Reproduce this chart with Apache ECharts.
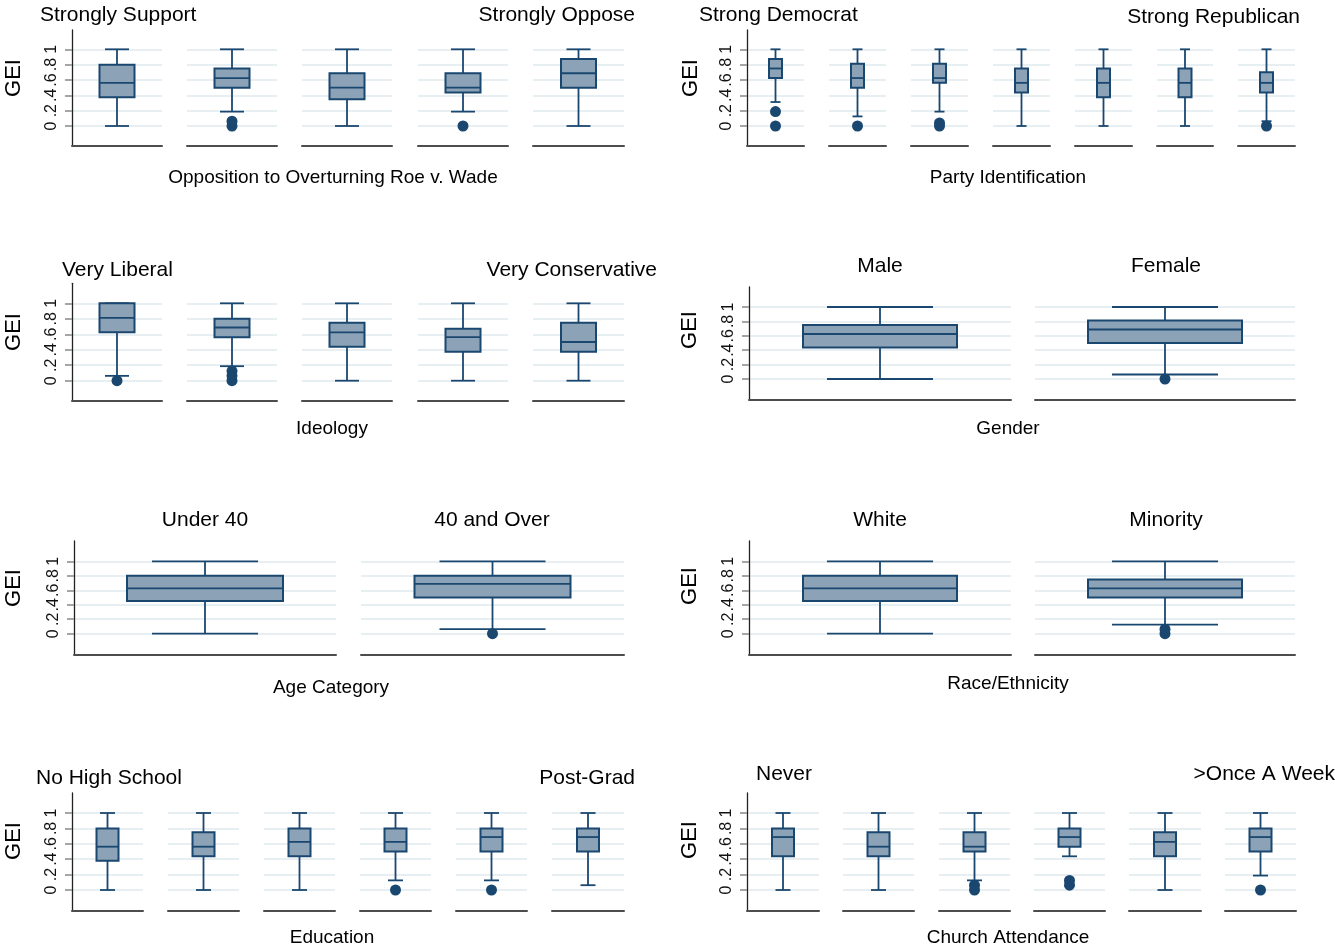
<!DOCTYPE html>
<html><head><meta charset="utf-8">
<script src="https://cdn.jsdelivr.net/npm/echarts@6/dist/echarts.min.js"></script>
<style>html,body{margin:0;padding:0;background:#fff}#c{width:1335px;height:952px}</style>
</head><body><div id="c"></div>
<script>
// ---------------- data ----------------
const yTicks = [0, 0.2, 0.4, 0.6, 0.8, 1];
const yTickLabels = ['0', '.2', '.4', '.6', '.8', '1'];
const yAxisName = 'GEI';

// box = [lower whisker, Q1, median, Q3, upper whisker]
const roeTitle = 'Opposition to Overturning Roe v. Wade';
const roeCategories = ['Strongly Support', '', '', '', 'Strongly Oppose'];
const roeBoxes = [[0, 0.375, 0.5625, 0.8, 1], [0.1875, 0.5, 0.625, 0.75, 1], [0, 0.35, 0.5, 0.6875, 1], [0.1875, 0.4375, 0.5, 0.6875, 1], [0, 0.5, 0.6875, 0.875, 1]];
const roeOutliers = [[], [0, 0.0625], [], [0], []];

const partyTitle = 'Party Identification';
const partyCategories = ['Strong Democrat', '', '', '', '', '', 'Strong Republican'];
const partyBoxes = [[0.3125, 0.625, 0.75, 0.875, 1], [0.125, 0.5, 0.625, 0.8125, 1], [0.1875, 0.5625, 0.625, 0.8125, 1], [0, 0.4375, 0.5625, 0.75, 1], [0, 0.375, 0.5625, 0.75, 1], [0, 0.375, 0.5625, 0.75, 1], [0.0625, 0.4375, 0.5625, 0.7, 1]];
const partyOutliers = [[0, 0.1875], [0], [0, 0.04], [], [], [], [0]];

const ideologyTitle = 'Ideology';
const ideologyCategories = ['Very Liberal', '', '', '', 'Very Conservative'];
const ideologyBoxes = [[0.0625, 0.625, 0.8125, 1, 1], [0.1875, 0.5625, 0.6875, 0.8, 1], [0, 0.4375, 0.625, 0.75, 1], [0, 0.375, 0.5625, 0.67, 1], [0, 0.375, 0.5, 0.75, 1]];
const ideologyOutliers = [[0], [0, 0.0625, 0.125], [], [], []];

const genderTitle = 'Gender';
const genderCategories = ['Male', 'Female'];
const genderBoxes = [[0, 0.4375, 0.625, 0.75, 1], [0.0625, 0.5, 0.6875, 0.8125, 1]];
const genderOutliers = [[], [0]];

const ageTitle = 'Age Category';
const ageCategories = ['Under 40', '40 and Over'];
const ageBoxes = [[0, 0.45, 0.625, 0.8, 1], [0.0625, 0.5, 0.6875, 0.8, 1]];
const ageOutliers = [[], [0]];

const raceTitle = 'Race/Ethnicity';
const raceCategories = ['White', 'Minority'];
const raceBoxes = [[0, 0.45, 0.625, 0.8, 1], [0.125, 0.5, 0.625, 0.75, 1]];
const raceOutliers = [[], [0, 0.0625]];

const educationTitle = 'Education';
const educationCategories = ['No High School', '', '', '', '', 'Post-Grad'];
const educationBoxes = [[0, 0.38, 0.5625, 0.8, 1], [0, 0.4375, 0.5625, 0.75, 1], [0, 0.4375, 0.625, 0.8, 1], [0.125, 0.5, 0.625, 0.8, 1], [0.125, 0.5, 0.6875, 0.8, 1], [0.0625, 0.5, 0.6875, 0.8, 1]];
const educationOutliers = [[], [], [], [0], [0], []];

const churchTitle = 'Church Attendance';
const churchCategories = ['Never', '', '', '', '', '>Once A Week'];
const churchBoxes = [[0, 0.4375, 0.6875, 0.8, 1], [0, 0.4375, 0.5625, 0.75, 1], [0.125, 0.5, 0.5625, 0.75, 1], [0.4375, 0.5625, 0.6875, 0.8, 1], [0, 0.4375, 0.625, 0.75, 1], [0.1875, 0.5, 0.6875, 0.8, 1]];
const churchOutliers = [[], [], [0, 0.0625], [0.0625, 0.125], [], [0]];

// ---------------- layout (pixels) ----------------
const leftCols5 = [[72, 162], [187, 277], [302, 392], [418, 508], [533, 624]];
const partyCols = [[747, 804], [829, 886], [911, 968], [993, 1050], [1075, 1132], [1157, 1213], [1238, 1295]];
const leftCols2 = [[74, 336], [361, 624]];
const rightCols2 = [[749, 1011], [1035, 1295]];
const eduCols = [[72, 143], [168, 239], [264, 335], [360, 431], [456, 527], [552, 624]];
const churchCols = [[747, 819], [843, 914], [939, 1010], [1034, 1105], [1129, 1201], [1225, 1296]];

const panels = [
  { cats: roeCategories, boxes: roeBoxes, outl: roeOutliers, xTitle: roeTitle,
    L: { cols: leftCols5, y1: 49.3, y0: 126, top: 30, bottom: 146, boxW: 35, capW: 24,
         titles: [{ i: 0, x: 40, y: 15, a: 'left' }, { i: 4, x: 635, y: 15, a: 'right' }],
         xt: [333, 178], gei: [14, 78] } },
  { cats: partyCategories, boxes: partyBoxes, outl: partyOutliers, xTitle: partyTitle,
    L: { cols: partyCols, y1: 49.3, y0: 126, top: 30, bottom: 146, boxW: 13, capW: 10,
         titles: [{ i: 0, x: 699, y: 15, a: 'left' }, { i: 6, x: 1300, y: 17, a: 'right' }],
         xt: [1008, 178], gei: [691, 78] } },
  { cats: ideologyCategories, boxes: ideologyBoxes, outl: ideologyOutliers, xTitle: ideologyTitle,
    L: { cols: leftCols5, y1: 303.3, y0: 380.7, top: 283.3, bottom: 400.7, boxW: 35, capW: 24,
         titles: [{ i: 0, x: 62, y: 270, a: 'left' }, { i: 4, x: 657, y: 270, a: 'right' }],
         xt: [332, 429], gei: [14, 332] } },
  { cats: genderCategories, boxes: genderBoxes, outl: genderOutliers, xTitle: genderTitle,
    L: { cols: rightCols2, y1: 307, y0: 379, top: 287, bottom: 400, boxW: 154, capW: 106,
         titles: [{ i: 0, x: 880, y: 266, a: 'center' }, { i: 1, x: 1166, y: 266, a: 'center' }],
         xt: [1008, 429], gei: [690, 330] } },
  { cats: ageCategories, boxes: ageBoxes, outl: ageOutliers, xTitle: ageTitle,
    L: { cols: leftCols2, y1: 561.3, y0: 633.7, top: 541, bottom: 654.7, boxW: 156, capW: 106,
         titles: [{ i: 0, x: 205, y: 520, a: 'center' }, { i: 1, x: 492, y: 520, a: 'center' }],
         xt: [331, 688], gei: [14, 588] } },
  { cats: raceCategories, boxes: raceBoxes, outl: raceOutliers, xTitle: raceTitle,
    L: { cols: rightCols2, y1: 561.3, y0: 633.7, top: 541, bottom: 654.7, boxW: 154, capW: 106,
         titles: [{ i: 0, x: 880, y: 520, a: 'center' }, { i: 1, x: 1166, y: 520, a: 'center' }],
         xt: [1008, 684], gei: [690, 586] } },
  { cats: educationCategories, boxes: educationBoxes, outl: educationOutliers, xTitle: educationTitle,
    L: { cols: eduCols, y1: 813, y0: 890, top: 793, bottom: 910.7, boxW: 22, capW: 15,
         titles: [{ i: 0, x: 36, y: 778, a: 'left' }, { i: 5, x: 635, y: 778, a: 'right' }],
         xt: [332, 938], gei: [14, 841] } },
  { cats: churchCategories, boxes: churchBoxes, outl: churchOutliers, xTitle: churchTitle,
    L: { cols: churchCols, y1: 813, y0: 890, top: 793, bottom: 910.7, boxW: 22, capW: 15,
         titles: [{ i: 0, x: 756, y: 774, a: 'left' }, { i: 5, x: 1335, y: 774, a: 'right' }],
         xt: [1008, 938], gei: [690, 840] } }
];

// ---------------- styles ----------------
const FONT = '"Liberation Sans", Arial, Helvetica, sans-serif';
const NAVY = '#1a476f';
const FILL = '#8ca3b7';
const GRIDC = '#e8eff2';
const TITLE_SIZE = 21;
const XTITLE_SIZE = 19;

function makeBox(boxW, capW) {
  return function (params, api) {
    const x = api.value(0);
    const pMin = api.coord([x, api.value(1)]);
    const pQ1 = api.coord([x, api.value(2)]);
    const pMed = api.coord([x, api.value(3)]);
    const pQ3 = api.coord([x, api.value(4)]);
    const pMax = api.coord([x, api.value(5)]);
    const cx = pMed[0];
    const ls = { stroke: NAVY, lineWidth: 1.8, fill: null };
    return {
      type: 'group',
      children: [
        { type: 'line', shape: { x1: cx, y1: pQ1[1], x2: cx, y2: pMin[1] }, style: ls },
        { type: 'line', shape: { x1: cx, y1: pQ3[1], x2: cx, y2: pMax[1] }, style: ls },
        { type: 'line', shape: { x1: cx - capW / 2, y1: pMin[1], x2: cx + capW / 2, y2: pMin[1] }, style: ls },
        { type: 'line', shape: { x1: cx - capW / 2, y1: pMax[1], x2: cx + capW / 2, y2: pMax[1] }, style: ls },
        { type: 'rect', shape: { x: cx - boxW / 2, y: pQ3[1], width: boxW, height: pQ1[1] - pQ3[1] },
          style: { fill: FILL, stroke: NAVY, lineWidth: 2 } },
        { type: 'line', shape: { x1: cx - boxW / 2, y1: pMed[1], x2: cx + boxW / 2, y2: pMed[1] }, style: ls }
      ]
    };
  };
}

function txt(text, x, y, size, align, rot) {
  return {
    type: 'text', x: x, y: y, rotation: rot || 0, silent: true,
    style: {
      text: text, fontSize: size, fontFamily: FONT, fill: '#000',
      align: align, verticalAlign: 'middle', textAlign: align, textVerticalAlign: 'middle'
    }
  };
}

const grids = [], xAxes = [], yAxes = [], series = [], graphics = [];

panels.forEach(p => {
  const L = p.L;
  const unit = L.y0 - L.y1;
  const yMin = -(L.bottom - L.y0) / unit;
  const yMax = 1 + (L.y1 - L.top) / unit;
  p.boxes.forEach((b, i) => {
    const gi = grids.length;
    const c = L.cols[i];
    const first = i === 0;
    grids.push({ left: c[0], top: L.top, width: c[1] - c[0], height: L.bottom - L.top, containLabel: false });
    xAxes.push({
      type: 'value', gridIndex: gi, min: -1, max: 1, position: 'bottom',
      axisLine: { show: true, onZero: false, lineStyle: { color: '#4d4d4d', width: 2 } },
      axisTick: { show: false }, axisLabel: { show: false }, splitLine: { show: false }
    });
    yAxes.push({
      type: 'value', gridIndex: gi, min: yMin, max: yMax, position: 'left',
      axisLine: { show: first, onZero: false, lineStyle: { color: '#222', width: 1.3 } },
      axisTick: { show: first, length: 7, lineStyle: { color: '#888', width: 1.5 }, customValues: yTicks },
      axisLabel: {
        show: first, customValues: yTicks, rotate: 90, margin: 12, fontSize: 16, color: '#111', fontFamily: FONT,
        formatter: v => { const k = yTicks.findIndex(t => Math.abs(t - v) < 1e-6); return k >= 0 ? yTickLabels[k] : ''; }
      },
      splitLine: { show: true, lineStyle: { color: GRIDC, width: 2 } }
    });
    series.push({
      type: 'custom', xAxisIndex: gi, yAxisIndex: gi, renderItem: makeBox(L.boxW, L.capW),
      encode: { x: 0, y: [1, 2, 3, 4, 5] }, data: [[0].concat(b)], z: 3, silent: true, clip: false
    });
    series.push({
      type: 'scatter', xAxisIndex: gi, yAxisIndex: gi, symbol: 'circle', symbolSize: 11,
      itemStyle: { color: NAVY, opacity: 1 }, data: p.outl[i].map(v => [0, v]), z: 4, silent: true
    });
  });
  L.titles.forEach(t => graphics.push(txt(p.cats[t.i], t.x, t.y, TITLE_SIZE, t.a)));
  graphics.push(txt(p.xTitle, L.xt[0], L.xt[1], XTITLE_SIZE, 'center'));
  graphics.push(txt(yAxisName, L.gei[0], L.gei[1], 22, 'center', Math.PI / 2));
});

const chart = echarts.init(document.getElementById('c'), null, { renderer: 'canvas' });
chart.setOption({
  backgroundColor: '#fff',
  animation: false,
  grid: grids, xAxis: xAxes, yAxis: yAxes, series: series,
  graphic: { elements: graphics }
});
</script></body></html>
